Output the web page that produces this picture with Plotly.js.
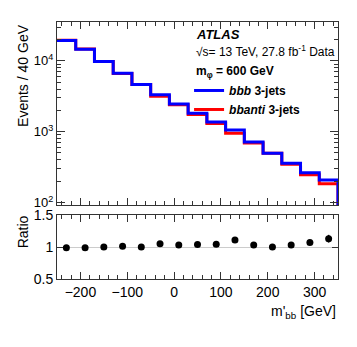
<!DOCTYPE html>
<html>
<head>
<meta charset="utf-8">
<script src="https://cdn.plot.ly/plotly-3.0.1.min.js"></script>
<style>body{margin:0;background:#fff}</style>
</head>
<body>
<div id="plotDiv" style="width:357px;height:347px"></div>
<script>
// bin edges in m'_bb (40 GeV bins)
var binEdges = [-250, -210, -170, -130, -90, -50, -10, 30, 70, 110, 150, 190, 230, 270, 310, 350];
var binCenters = [-230, -190, -150, -110, -70, -30, 10, 50, 90, 130, 170, 210, 250, 290, 330];

// bbb 3-jets
var bbbEvents = [19400, 14600, 9780, 6700, 4630, 3330, 2470, 1820, 1370, 1057, 714, 494, 357, 263, 207];
// bbanti 3-jets
var bbantiEvents = [19600, 14750, 9780, 6630, 4630, 3170, 2400, 1750, 1310, 952, 693, 494, 347, 246, 183];

// ratio bbb / bbanti
var ratioVals = [0.99, 0.99, 1.0, 1.01, 1.0, 1.05, 1.03, 1.04, 1.045, 1.11, 1.03, 1.0, 1.03, 1.07, 1.13];
var ratioErr = [0.01, 0.01, 0.01, 0.01, 0.012, 0.012, 0.015, 0.015, 0.02, 0.02, 0.025, 0.03, 0.03, 0.04, 0.06];

var yTickVals = [100, 1000, 10000];
var yTickText = ['10<sup>2</sup>', '10<sup>3</sup>', '10<sup>4</sup>'];

// step line helper: repeat last value, then close the histogram down at the right edge
function stepY(vals) {
    var y = vals.slice();
    y.push(vals[vals.length - 1]);
    y.push(1);
    return y;
}
var stepX = binEdges.concat([binEdges[binEdges.length - 1]]);

var minorLog = [];
for (var d = 10; d <= 10000; d *= 10) {
    for (var k = 2; k <= 9; k++) minorLog.push(k * d);
}

var frame = '#333';
var fnt = {family: 'Liberation Sans, Arial, sans-serif', size: 14, color: '#000'};

var traceRed = {
    x: stepX, y: stepY(bbantiEvents),
    type: 'scatter', mode: 'lines', line: {shape: 'hv', color: '#ff0000', width: 3},
    name: '<b><i>bbanti</i> 3-jets</b>', xaxis: 'x', yaxis: 'y'
};
var traceBlue = {
    x: stepX, y: stepY(bbbEvents),
    type: 'scatter', mode: 'lines', line: {shape: 'hv', color: '#0000ff', width: 3},
    name: '<b><i>bbb</i> 3-jets</b>', xaxis: 'x', yaxis: 'y'
};
var traceRatio = {
    x: binCenters, y: ratioVals,
    error_y: {type: 'data', array: ratioErr, color: '#000', thickness: 1.5, width: 0},
    type: 'scatter', mode: 'markers', marker: {color: '#000', size: 7},
    showlegend: false, xaxis: 'x2', yaxis: 'y2'
};

var data = [traceRed, traceBlue, traceRatio];

var layout = {
    width: 357, height: 347,
    margin: {l: 57, r: 19, t: 22, b: 68},
    paper_bgcolor: '#fff', plot_bgcolor: '#fff',
    font: fnt,
    showlegend: true,
    legend: {x: 0.47, y: 0.79, xanchor: 'left', yanchor: 'top', traceorder: 'reversed',
        bgcolor: 'rgba(0,0,0,0)', font: {family: fnt.family, size: 12, color: '#000'}, tracegroupgap: 0},
    xaxis: {
        domain: [0, 1], anchor: 'y', range: [-250, 350], showticklabels: false,
        tickvals: [-200, -100, 0, 100, 200, 300], ticks: 'inside', ticklen: 7, tickcolor: frame,
        minor: {dtick: 20, ticks: 'inside', ticklen: 4, tickcolor: frame, showgrid: false},
        showline: true, linecolor: frame, linewidth: 1, mirror: 'allticks', showgrid: false, zeroline: false
    },
    yaxis: {
        domain: [0.288, 1], anchor: 'x', type: 'log', range: [Math.log10(92), Math.log10(35500)],
        tickvals: yTickVals, ticktext: yTickText, ticks: 'inside', ticklen: 8, tickcolor: frame,
        minor: {tickvals: minorLog, ticks: 'inside', ticklen: 4, tickcolor: frame, showgrid: false},
        tickfont: {family: fnt.family, size: 13},
        showline: true, linecolor: frame, linewidth: 1, mirror: 'allticks', showgrid: false, zeroline: false
    },
    xaxis2: {
        domain: [0, 1], anchor: 'y2', matches: 'x', range: [-250, 350],
        tickvals: [-200, -100, 0, 100, 200, 300], ticktext: ['\u2212200', '\u2212100', '0', '100', '200', '300'],
        ticks: 'inside', ticklen: 7, tickcolor: frame,
        minor: {dtick: 20, ticks: 'inside', ticklen: 4, tickcolor: frame, showgrid: false},
        showline: true, linecolor: frame, linewidth: 1, mirror: 'allticks', showgrid: false, zeroline: false
    },
    yaxis2: {
        domain: [0, 0.249], anchor: 'x2', range: [0.5, 1.5],
        tickvals: [0.5, 1, 1.5], ticktext: ['0.5', '1', '1.5'], ticks: 'inside', ticklen: 6, tickcolor: frame,
        showgrid: true, gridcolor: '#cccccc', gridwidth: 1,
        showline: true, linecolor: frame, linewidth: 1, mirror: 'allticks', zeroline: false
    },
    annotations: [
        {xref: 'paper', yref: 'paper', x: 0.488, y: 0.953, xanchor: 'left', yanchor: 'middle', showarrow: false,
            text: '<b><i>ATLAS</i></b>', font: {family: fnt.family, size: 13}},
        {xref: 'paper', yref: 'paper', x: 0.488, y: 0.887, xanchor: 'left', yanchor: 'middle', showarrow: false,
            text: '\u221As= 13 TeV, 27.8 fb<sup>-1</sup> Data', font: {family: fnt.family, size: 12}},
        {xref: 'paper', yref: 'paper', x: 0.488, y: 0.805, xanchor: 'left', yanchor: 'middle', showarrow: false,
            text: '<b>m<sub>\u03c6</sub> = 600 GeV</b>', font: {family: fnt.family, size: 12}},
        {xref: 'paper', yref: 'paper', x: 1, y: -0.128, xanchor: 'right', yanchor: 'middle', showarrow: false,
            text: "m'<sub>bb</sub> [GeV]", font: {family: fnt.family, size: 14}},
        {xref: 'paper', yref: 'paper', x: -0.121, y: 0.794, xanchor: 'center', yanchor: 'middle', showarrow: false,
            textangle: -90, text: 'Events / 40 GeV', font: {family: fnt.family, size: 14}},
        {xref: 'paper', yref: 'paper', x: -0.118, y: 0.185, xanchor: 'center', yanchor: 'middle', showarrow: false,
            textangle: -90, text: 'Ratio', font: {family: fnt.family, size: 14}}
    ]
};

Plotly.newPlot('plotDiv', data, layout, {staticPlot: true, displayModeBar: false});
</script>
</body>
</html>
